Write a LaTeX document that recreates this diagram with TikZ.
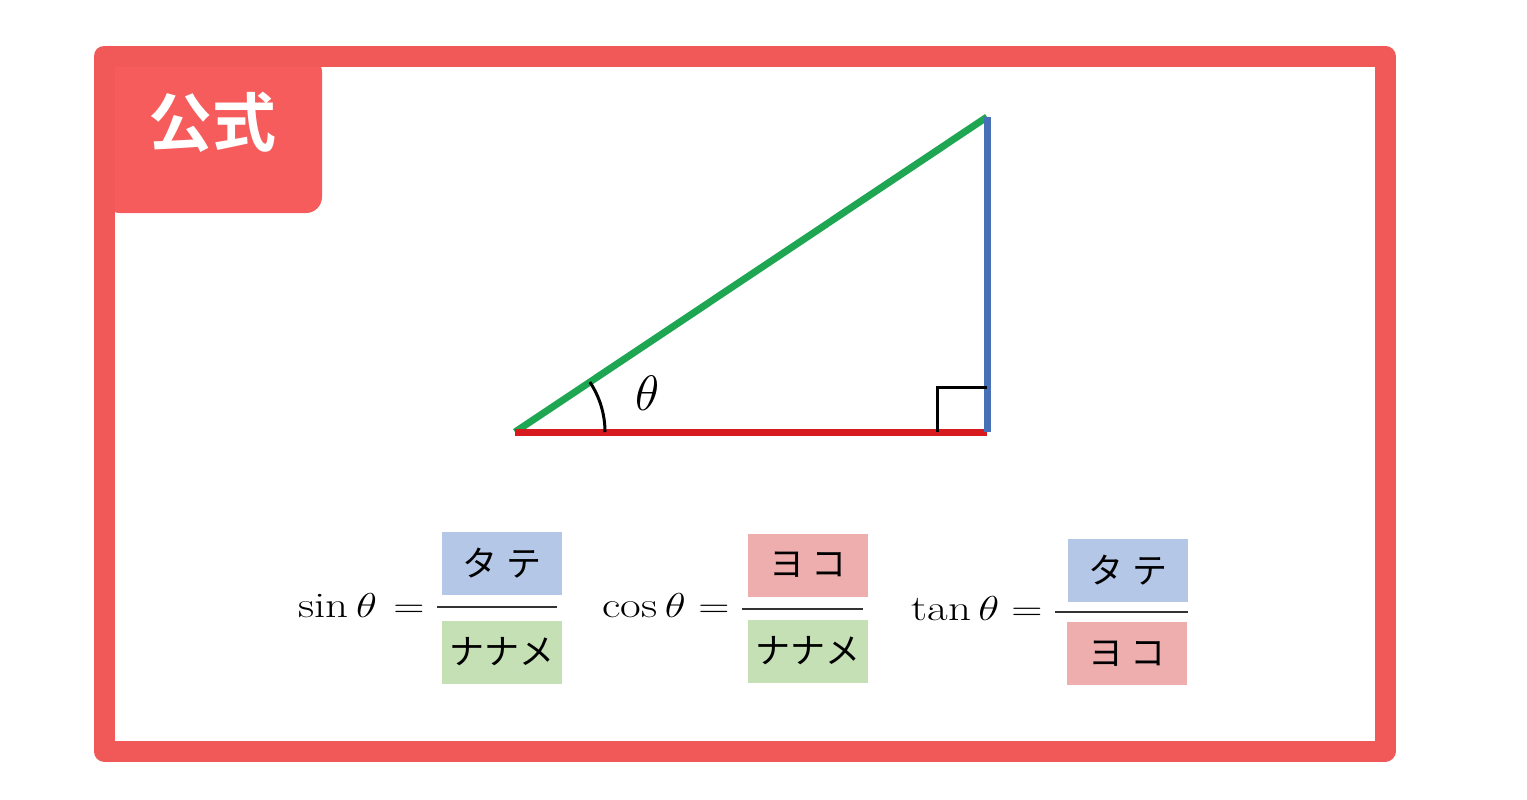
\documentclass[tikz,border=0pt]{standalone}
\usepackage{fontspec}
\newfontfamily\jpfont[BoldFont={Noto Sans CJK JP Bold}]{Noto Sans CJK JP}
\usepackage{tikz}
\usetikzlibrary{angles, positioning}

\definecolor{cFrame}{RGB}{241,88,88}
\definecolor{cTab}{RGB}{247,92,92}
\definecolor{cHypo}{RGB}{30,166,82}
\definecolor{cBase}{RGB}{214,26,30}
\definecolor{cSide}{RGB}{72,112,182}
\definecolor{cTate}{RGB}{180,199,231}
\definecolor{cYoko}{RGB}{239,174,174}
\definecolor{cNaname}{RGB}{197,224,180}

\begin{document}
\begin{tikzpicture}[x=0.5pt,y=-0.5pt]
  \tikzstyle{leg}=[line width=3.5pt]
  \tikzstyle{marker}=[line width=1.5pt]
  \tikzstyle{lhs}=[anchor=base west, inner sep=0pt, xscale=1.25, transform shape, font=\fontsize{18}{21}\selectfont]
  \tikzstyle{eq}=[anchor=base, inner sep=0pt, xscale=1.25, transform shape, font=\fontsize{18}{21}\selectfont]
  \tikzstyle{box}=[minimum width=60pt, minimum height=31.5pt, inner sep=0pt, font=\jpfont\fontsize{17.5}{20}\selectfont]
  \tikzstyle{bar}=[line width=1pt, black!80]

  \useasboundingbox (0,0) rectangle (1527,799);

  % frame and tab
  \fill[cTab, rounded corners=8pt] (104,56) rectangle (322,213);
  \draw[cFrame, line width=10.5pt, line join=round] (104,56) rectangle (1385,751);
  \node[text=white, font=\jpfont\bfseries\fontsize{32}{36}\selectfont] (title) at (212,122) {公式};

  % triangle
  \coordinate (A) at (515,432);
  \coordinate (B) at (987,432);
  \coordinate (C) at (987,117);
  \draw[leg, cHypo] (A) -- (C);
  \draw[leg, cBase] (A) -- (B);
  \draw[leg, cSide] (C) -- (B);
  \pic[draw, marker, angle radius=45pt] {angle=B--A--C};
  \draw[marker] ([xshift=-25pt]B) |- ([yshift=22.5pt]B);
  \node[font=\fontsize{24}{28}\selectfont] (theta) at (648,393) {$\theta$};

  % sin
  \node[lhs] (sin) at (298,617) {$\sin\theta$};
  \node[eq]  (sineq) at (409,617) {$=$};
  \node[box, fill=cTate]   (sinnum) at (502,563.5) {タ\hspace{5pt}テ};
  \node[box, fill=cNaname] (sinden) at (502,652) {ナナメ};
  \draw[bar] (437,607) -- (557,607);

  % cos
  \node[lhs] (cos) at (602,617) {$\cos\theta$};
  \node[eq]  (coseq) at (714,617) {$=$};
  \node[box, fill=cYoko]   (cosnum) at (808,565) {ヨ\hspace{4pt}コ};
  \node[box, fill=cNaname] (cosden) at (808,651) {ナナメ};
  \draw[bar] (742,609) -- (863,609);

  % tan
  \node[lhs] (tan) at (911,620) {$\tan\theta$};
  \node[eq]  (taneq) at (1027,620) {$=$};
  \node[box, fill=cTate] (tannum) at (1128,570) {タ\hspace{5pt}テ};
  \node[box, fill=cYoko] (tanden) at (1127,653.5) {ヨ\hspace{4pt}コ};
  \draw[bar] (1055,612) -- (1188,612);
\end{tikzpicture}
\end{document}
